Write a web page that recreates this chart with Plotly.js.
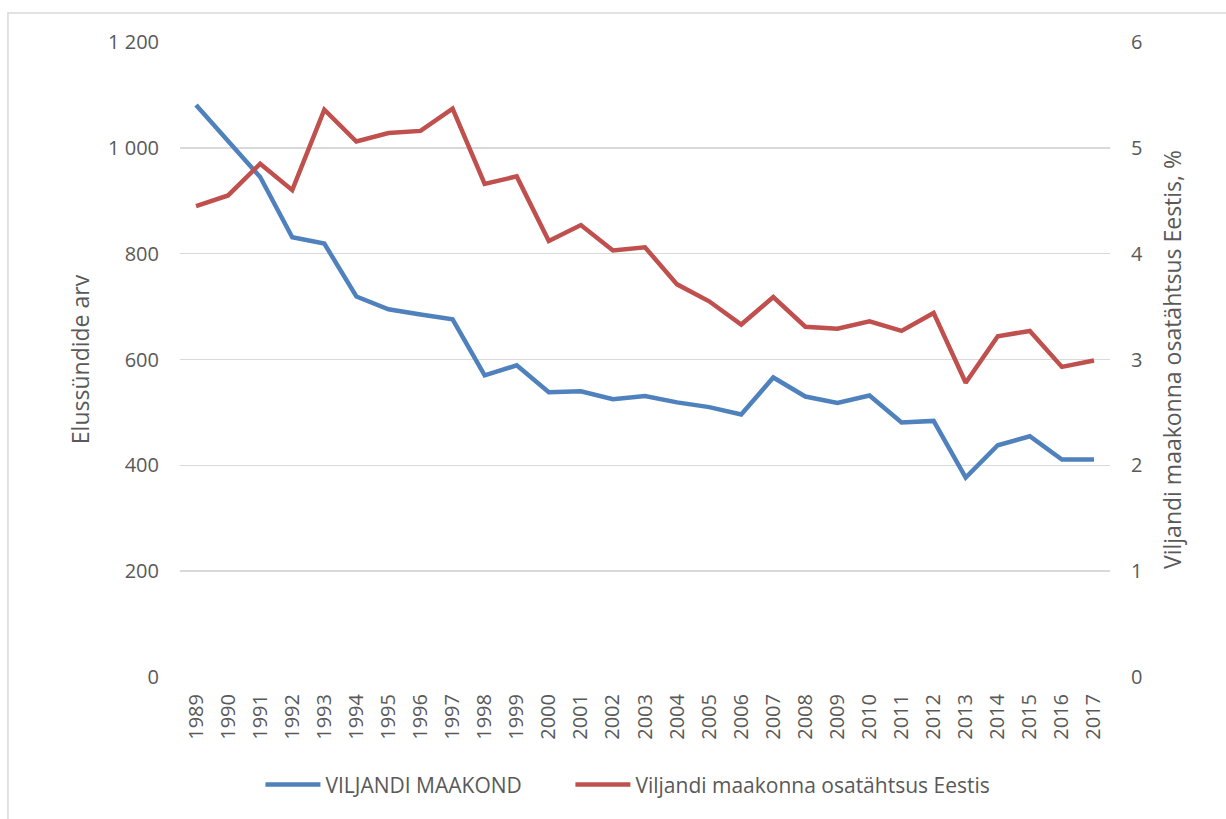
<!DOCTYPE html>
<html>
<head>
<meta charset="utf-8">
<script src="https://cdn.plot.ly/plotly-3.0.1.min.js"></script>
<style>
html,body{margin:0;padding:0;background:#fff;}
#chart{width:1226px;height:819px;}
</style>
</head>
<body>
<div id="chart"></div>
<script>
const years = ["1989","1990","1991","1992","1993","1994","1995","1996","1997","1998","1999","2000","2001","2002","2003","2004","2005","2006","2007","2008","2009","2010","2011","2012","2013","2014","2015","2016","2017"];
const births = [1081,1013,945,831,819,719,695,685,676,570,589,538,540,525,531,519,510,496,566,530,518,532,481,484,377,438,455,411,411];
const share = [4.45,4.55,4.85,4.60,5.36,5.06,5.14,5.16,5.37,4.66,4.73,4.12,4.27,4.03,4.06,3.71,3.55,3.33,3.59,3.31,3.29,3.36,3.27,3.44,2.78,3.22,3.27,2.93,2.99];
const seriesNames = ["VILJANDI MAAKOND","Viljandi maakonna osatähtsus Eestis"];
const axisTitles = ["Elussündide arv","Viljandi maakonna osatähtsus Eestis, %"];

const fam = "Open Sans, Liberation Sans, Arial, sans-serif";
const tickFont = {family:fam, size:20, color:"#595959"};
const titleFont = {family:fam, size:23, color:"#595959"};
const legendFont = {family:fam, size:21, color:"#595959"};

const traces = [
  {x:years, y:births, name:seriesNames[0], type:"scatter", mode:"lines",
   line:{color:"#4f81bd", width:4.5}, yaxis:"y", legend:"legend"},
  {x:years, y:share, name:seriesNames[1], type:"scatter", mode:"lines",
   line:{color:"#c0504d", width:4.5}, yaxis:"y2", legend:"legend2"}
];

const legendBase = {orientation:"h", xanchor:"left", y:-0.17, yanchor:"middle",
  font:legendFont, itemwidth:55, bgcolor:"rgba(0,0,0,0)"};

const layout = {
  width:1226, height:819,
  margin:{l:180, r:116, t:42, b:142},
  paper_bgcolor:"#fff", plot_bgcolor:"#fff",
  font:tickFont,
  separators:", ",
  showlegend:true,
  legend:Object.assign({}, legendBase, {x:0.0865}),
  legend2:Object.assign({}, legendBase, {x:0.4198}),
  xaxis:{type:"category", range:[-0.5,28.5], tickangle:-90, showgrid:false,
         showline:false, ticks:"", tickfont:tickFont, zeroline:false, fixedrange:true,
         ticklabelstandoff:12},
  yaxis:{range:[0,1200], dtick:200, tick0:0, separatethousands:true,
         gridcolor:"#d9d9d9", gridwidth:1.5, zeroline:false, showline:false,
         ticks:"", tickfont:tickFont, ticklabelstandoff:20,
         title:{text:axisTitles[0], font:titleFont, standoff:12}},
  yaxis2:{range:[0,6], dtick:1, tick0:0, overlaying:"y", side:"right",
          showgrid:false, zeroline:false, showline:false, ticks:"",
          tickfont:tickFont, ticklabelstandoff:20,
          title:{text:axisTitles[1], font:titleFont, standoff:22}},
  shapes:[{type:"rect", xref:"paper", yref:"paper",
           x0:-0.185, x1:1.135, y0:-0.25, y1:1.0457,
           line:{color:"#d9d9d9", width:1.5}, fillcolor:"rgba(0,0,0,0)", layer:"below"}]
};
Plotly.newPlot("chart", traces, layout, {displayModeBar:false, staticPlot:true});
</script>
</body>
</html>
